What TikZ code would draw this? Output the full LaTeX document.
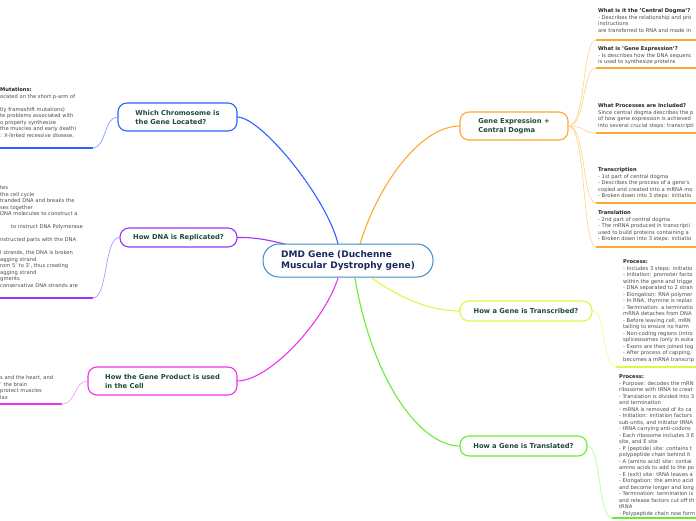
\documentclass[tikz,border=0pt]{standalone}
\usepackage{fontspec}
\setmainfont{DejaVu Sans}
\newfontfamily\titlefont{DejaVu Sans}
\usetikzlibrary{calc}
\definecolor{ccentral}{HTML}{3A8CCC}
\definecolor{cnavy}{HTML}{1A2A5A}
\definecolor{titlegreen}{HTML}{1E4A3A}
\definecolor{bodygray}{HTML}{4A4A4A}
\definecolor{headgray}{HTML}{222222}
\definecolor{cblue}{HTML}{3060FF}
\definecolor{cbluel}{HTML}{80A0FF}
\definecolor{cpurple}{HTML}{9933FF}
\definecolor{cpurplel}{HTML}{C090FF}
\definecolor{cmag}{HTML}{EE33EE}
\definecolor{cmagl}{HTML}{F5A0F5}
\definecolor{corange}{HTML}{FFA830}
\definecolor{corangel}{HTML}{FFD490}
\definecolor{cyellow}{HTML}{E2F540}
\definecolor{cyellowl}{HTML}{EEFF90}
\definecolor{cgreen}{HTML}{66EE33}
\definecolor{cgreenl}{HTML}{B0FF90}
\begin{document}
\begin{tikzpicture}[x=1pt,y=-1pt,
  topic/.style={draw, fill=white, rounded corners=9pt, line width=1.1pt, text=titlegreen,
    font=\titlefont\bfseries\fontsize{6.75}{9}\selectfont, align=left, inner sep=0pt},
  body/.style={anchor=north west, inner sep=0pt, align=left, text=bodygray,
    font=\fontsize{5.2}{6.5}\selectfont},
  conn/.style={line width=1.1pt},
  twig/.style={line width=0.7pt},
  uline/.style={line width=1.6pt}]
\useasboundingbox (0,0) rectangle (696,520);
\clip (0,0) rectangle (696,520);

% ---------- text blocks ----------
\node[body] (tChrom) at (0,86.8) {\strut\textbf{\color{headgray}Mutations:}\\ocated on the short p-arm of\\ \\tly frameshift mutations)\\te problems associated with\\o properly synthesize\\the muscles and early death)\\: X-linked recessive disease,};
\node[body] (tRepl) at (0,184.8) {\strut tes\\the cell cycle\\tranded DNA and breaks the\\ses together\\DNA molecules to construct a\\ \\\hspace*{11pt}to instruct DNA Polymerase\\ \\nstructed parts with the DNA\\ \\l strands, the DNA is broken\\agging strand\\rom 5' to 3', thus creating\\agging strand\\gments\\conservative DNA strands are};
\node[body] (tProd) at (0,374.8) {\strut s and the heart, and\\' the brain\\protect muscles\\lax};

\node[body] (tE1) at (598,7.8) {\strut\textbf{\color{headgray}What is it the 'Central Dogma'?}\\- Describes the relationship and pro\\instructions\\are transferred to RNA and made in};
\node[body] (tE2) at (598,45.8) {\strut\textbf{\color{headgray}What is 'Gene Expression'?}\\- Is describes how the DNA sequenc\\is used to synthesize proteins};
\node[body] (tE3) at (598,102.8) {\strut\textbf{\color{headgray}What Processes are Included?}\\Since central dogma describes the p\\of how gene expression is achieved\\into several crucial steps: transcripti};
\node[body] (tE4) at (598,166.8) {\strut\textbf{\color{headgray}Transcription}\\- 1st part of central dogma\\- Describes the process of a gene's\\copied and created into a mRNA mo\\- Broken down into 3 steps: initiatio};
\node[body] (tE5) at (598,209.8) {\strut\textbf{\color{headgray}Translation}\\- 2nd part of central dogma\\- The mRNA produced in transcripti\\used to build proteins containing a\\- Broken down into 3 steps: initiatio};

\node[body] (tTransc) at (623,258.8) {\strut\textbf{\color{headgray}Process:}\\- Includes 3 steps: initiatio\\- Initiation: promoter facto\\within the gene and trigge\\- DNA separated to 2 stran\\- Elongation: RNA polymer\\- In RNA, thymine is replac\\- Termination: a terminatio\\mRNA detaches from DNA\\- Before leaving cell, mRN\\tailing to ensure no harm\\- Non-coding regions (intro\\spliceosomes (only in euka\\- Exons are then joined tog\\- After process of capping,\\becomes a mRNA transcrip};
\node[body] (tTransl) at (619,373.8) {\strut\textbf{\color{headgray}Process:}\\- Purpose: decodes the mRN\\ribosome with tRNA to creat\\- Translation is divided into 3\\and termination\\- mRNA is removed of its ca\\- Initiation: initiation factors\\sub-units, and initiator tRNA\\- tRNA carrying anti-codons\\- Each ribosome includes 3 E\\site, and E site\\- P (peptide) site: contains t\\polypeptide chain behind it\\- A (amino acid) site: contai\\amino acids to add to the po\\- E (exit) site: tRNA leaves a\\- Elongation: the amino acid\\and become longer and long\\- Termination: termination is\\and release factors cut off th\\tRNA\\- Polypeptide chain now form};

% ---------- underline coordinates ----------
\coordinate (uC1) at (93,148);  \coordinate (uC2) at (0,148);
\coordinate (uR1) at (93,298);  \coordinate (uR2) at (0,298);
\coordinate (uP1) at (62,404);  \coordinate (uP2) at (0,404);
\coordinate (uE1a) at (596,40);  \coordinate (uE1b) at (696,40);
\coordinate (uE2a) at (596,68);  \coordinate (uE2b) at (696,68);
\coordinate (uE3a) at (596,133); \coordinate (uE3b) at (696,133);
\coordinate (uE4a) at (596,203); \coordinate (uE4b) at (696,203);
\coordinate (uE5a) at (596,247); \coordinate (uE5b) at (696,247);
\coordinate (uT1a) at (616,367); \coordinate (uT1b) at (696,367);
\coordinate (uL1a) at (612,518); \coordinate (uL1b) at (696,518);

% ---------- attachment points on the central node ----------
\coordinate (cB) at (338,244);
\coordinate (cPu) at (293,246);
\coordinate (cM) at (338,278);
\coordinate (cO) at (360,244);
\coordinate (cY) at (372,278);
\coordinate (cG) at (355,278);

% main connectors (under the nodes)
\draw[conn, cblue] (237,117) .. controls (262,117) and (328,200) .. (cB);
\draw[conn, cpurple] (237,237.5) .. controls (260,237) and (275,242) .. (cPu);
\draw[conn, cmag] (237,381) .. controls (270,381) and (325,320) .. (cM);
\draw[conn, corange] (460,126) .. controls (420,126) and (378,185) .. (cO);
\draw[conn, cyellow] (460,311) .. controls (430,311) and (400,298) .. (cY);
\draw[conn, cgreen] (460,446) .. controls (420,446) and (372,380) .. (cG);

% ---------- topic nodes ----------
\node[draw=ccentral, fill=white, rounded corners=16pt, line width=1pt, minimum width=170pt,
  minimum height=33pt, text=cnavy, font=\titlefont\bfseries\fontsize{9}{11.5}\selectfont,
  align=left, inner sep=0pt] (central) at (348,260.5) {DMD Gene (Duchenne\\Muscular Dystrophy gene)};
\node[topic, draw=cblue, minimum width=119pt, minimum height=28pt] (chrom) at (177.5,117) {Which Chromosome is\\the Gene Located?};
\node[topic, draw=cpurple, minimum width=117pt, minimum height=19pt] (repl) at (178.5,237.5) {How DNA is Replicated?};
\node[topic, draw=cmag, minimum width=149pt, minimum height=28pt] (prod) at (162.5,381) {How the Gene Product is used\\in the Cell};
\node[topic, draw=corange, minimum width=108pt, minimum height=28pt] (expr) at (514,126) {Gene Expression +\\Central Dogma};
\node[topic, draw=cyellow, minimum width=132pt, minimum height=20pt] (transc) at (526,311) {How a Gene is Transcribed?};
\node[topic, draw=cgreen, minimum width=127pt, minimum height=20pt] (transl) at (523.5,446) {How a Gene is Translated?};

% branches
\draw[twig, cbluel] (chrom.west) .. controls (104,117) and (106,148) .. (uC1);
\draw[uline, cblue] (uC1) -- (uC2);
\draw[twig, cpurplel] (repl.west) .. controls (104,237) and (108,298) .. (uR1);
\draw[uline, cpurple] (uR1) -- (uR2);
\draw[twig, cmagl] (prod.west) .. controls (74,381) and (76,404) .. (uP1);
\draw[uline, cmag] (uP1) -- (uP2);

\foreach \a in {uE1a,uE2a,uE3a,uE4a,uE5a}
  \draw[twig, corangel] (expr.east) .. controls (586,126) and ($(\a)+(-14,0)$) .. (\a);
\foreach \a/\b in {uE1a/uE1b,uE2a/uE2b,uE3a/uE3b,uE4a/uE4b,uE5a/uE5b}
  \draw[uline, corange] (\a) -- (\b);

\draw[twig, cyellowl] (transc.east) .. controls (606,311) and (602,367) .. (uT1a);
\draw[uline, cyellow] (uT1a) -- (uT1b);
\draw[twig, cgreenl] (transl.east) .. controls (601,446) and (598,518) .. (uL1a);
\draw[uline, cgreen] (uL1a) -- (uL1b);
\end{tikzpicture}
\end{document}
